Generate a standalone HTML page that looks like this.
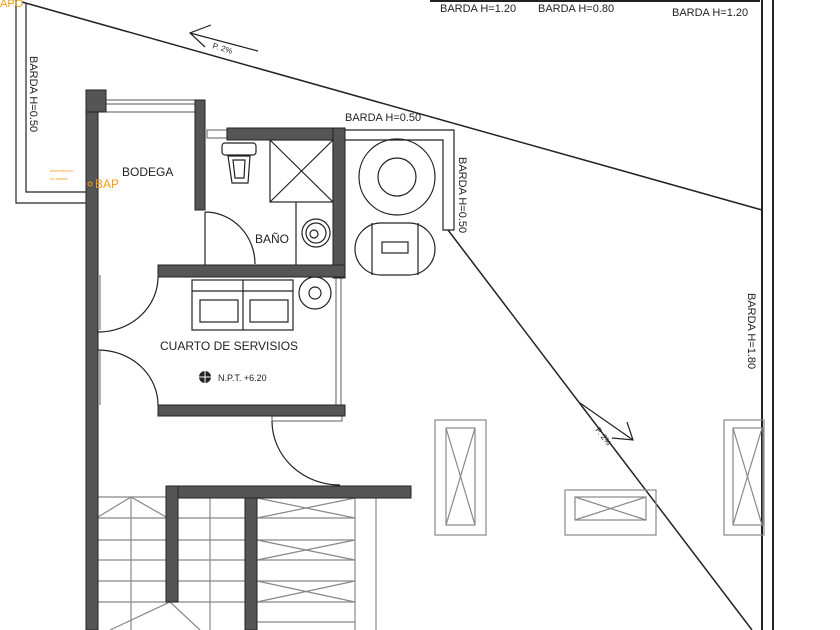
<!DOCTYPE html>
<html><head><meta charset="utf-8"><style>
html,body{margin:0;padding:0;background:#fff;}
svg{display:block;}
text{font-family:"Liberation Sans",sans-serif;fill:#222;}
</style></head><body>
<svg width="840" height="630" viewBox="0 0 840 630" xmlns="http://www.w3.org/2000/svg">
<rect width="840" height="630" fill="#fff"/>
<g fill="none" stroke="#222" stroke-width="1.2">
<polyline points="16,0 16,203 86,203"/>
<polyline points="26,4 26,192 86,192"/>
<line x1="22" y1="2" x2="762" y2="210" stroke-width="1.5"/>
<line x1="190" y1="33" x2="258" y2="51"/>
<polyline points="211,25 190,33 205,47"/>
<line x1="430" y1="1" x2="760" y2="1" stroke-width="2"/>
<line x1="762" y1="0" x2="762" y2="630" stroke-width="2"/>
<line x1="773" y1="0" x2="773" y2="630" stroke-width="2"/>
<polyline points="345,130 454,130 454,230 443,230 443,140 345,140"/>
<line x1="448" y1="230" x2="752" y2="630" stroke-width="1.5"/>
<line x1="580" y1="403" x2="633" y2="440"/>
<polyline points="627,422 633,440 612,438"/>
<circle cx="397" cy="177" r="38"/>
<circle cx="397" cy="177" r="19"/>
<rect x="355" y="223" width="80" height="52" rx="26"/>
<line x1="372" y1="223" x2="372" y2="275"/>
<line x1="418" y1="223" x2="418" y2="275"/>
<rect x="382" y="242" width="26" height="11"/>
<line x1="106" y1="100" x2="195" y2="100" stroke="#777"/>
<line x1="106" y1="104" x2="195" y2="104" stroke="#777"/>
<line x1="106" y1="112" x2="195" y2="112" stroke="#777"/>
<rect x="207" y="130" width="20" height="8" stroke="#777"/>
<rect x="222" y="143" width="34" height="12" rx="3"/>
<path d="M228,156 L250,156 L248,183 L232,183 Z"/>
<path d="M233,160 L245,160 L244,178 L235,178 Z"/>
<rect x="270" y="140" width="63" height="62"/>
<line x1="270" y1="140" x2="333" y2="202"/>
<line x1="333" y1="140" x2="270" y2="202"/>
<line x1="296" y1="202" x2="296" y2="265"/>
<circle cx="316" cy="233" r="14"/>
<circle cx="316" cy="233" r="10"/>
<circle cx="314" cy="234" r="4"/>
<line x1="205" y1="212" x2="205" y2="265"/>
<path d="M205,212 A50,52 0 0 1 255,264"/>
<rect x="192" y="280" width="101" height="50"/>
<line x1="243" y1="280" x2="243" y2="330"/>
<line x1="192" y1="291" x2="293" y2="291"/>
<rect x="200" y="300" width="38" height="22"/>
<rect x="250" y="300" width="38" height="22"/>
<circle cx="315" cy="293" r="16"/>
<circle cx="315" cy="293" r="6"/>
<line x1="336" y1="277" x2="336" y2="405" stroke="#777"/>
<line x1="341" y1="277" x2="341" y2="405" stroke="#777"/>
<path d="M158,277 A60,55 0 0 1 98,332"/>
<path d="M98,350 A60,55 0 0 1 158,405"/>
<line x1="100" y1="275" x2="100" y2="330" stroke="#777"/>
<line x1="100" y1="350" x2="100" y2="405" stroke="#777"/>
<rect x="272" y="416" width="70" height="5" stroke="#777"/>
<path d="M272,421 A68,64 0 0 0 340,485"/>
<g stroke="#888">
<rect x="435" y="420" width="51" height="115"/>
<rect x="446" y="428" width="29" height="97"/>
<line x1="446" y1="428" x2="475" y2="525"/><line x1="475" y1="428" x2="446" y2="525"/>
<rect x="565" y="490" width="91" height="45"/>
<rect x="575" y="497" width="71" height="23"/>
<line x1="575" y1="497" x2="646" y2="520"/><line x1="646" y1="497" x2="575" y2="520"/>
<rect x="724" y="420" width="40" height="115"/>
<rect x="733" y="428" width="30" height="97"/>
<line x1="733" y1="428" x2="762" y2="525"/><line x1="762" y1="428" x2="733" y2="525"/>
</g>
<g stroke="#888">
<line x1="98" y1="497" x2="166" y2="497"/>
<line x1="98" y1="518" x2="245" y2="518"/>
<line x1="98" y1="540" x2="245" y2="540"/>
<line x1="98" y1="560" x2="245" y2="560"/>
<line x1="98" y1="581" x2="245" y2="581"/>
<line x1="98" y1="602" x2="245" y2="602"/>
<line x1="131" y1="497" x2="131" y2="630"/>
<line x1="210" y1="498" x2="210" y2="630"/>
<polyline points="98,517 131,497 166,517"/>
<polyline points="110,630 170,602 200,630"/>
<line x1="355" y1="498" x2="355" y2="630"/>
<line x1="376" y1="498" x2="376" y2="630"/>
<line x1="257" y1="518" x2="355" y2="518"/>
<line x1="257" y1="540" x2="355" y2="540"/>
<line x1="257" y1="560" x2="355" y2="560"/>
<line x1="257" y1="581" x2="355" y2="581"/>
<line x1="257" y1="602" x2="355" y2="602"/>
<line x1="257" y1="622" x2="355" y2="622"/>
<line x1="257" y1="498" x2="355" y2="518"/><line x1="355" y1="498" x2="257" y2="518"/>
<line x1="257" y1="540" x2="355" y2="560"/><line x1="355" y1="540" x2="257" y2="560"/>
<line x1="257" y1="581" x2="355" y2="602"/><line x1="355" y1="581" x2="257" y2="602"/>
</g>
</g>
<g fill="#555" stroke="#222" stroke-width="1">
<rect x="86" y="90" width="12" height="540"/>
<rect x="86" y="90" width="20" height="22"/>
<rect x="195" y="100" width="10" height="110"/>
<rect x="227" y="128" width="118" height="12"/>
<rect x="333" y="128" width="12" height="150"/>
<rect x="158" y="265" width="187" height="12"/>
<rect x="158" y="405" width="187" height="11"/>
<rect x="166" y="486" width="245" height="12"/>
<rect x="166" y="486" width="12" height="116"/>
<rect x="245" y="498" width="12" height="132"/>
</g>
<circle cx="205" cy="377" r="6" fill="#222"/>
<line x1="197" y1="377" x2="213" y2="377" stroke="#fff" stroke-width="1"/>
<line x1="205" y1="369" x2="205" y2="385" stroke="#fff" stroke-width="1"/>
<text x="122" y="176" font-size="12">BODEGA</text>
<text x="255" y="243" font-size="12">BAÑO</text>
<text x="160" y="350" font-size="12">CUARTO DE SERVISIOS</text>
<text x="218" y="381" font-size="9">N.P.T. +6.20</text>
<text x="345" y="121" font-size="11">BARDA H=0.50</text>
<text x="440" y="12" font-size="11">BARDA H=1.20</text>
<text x="538" y="12" font-size="11">BARDA H=0.80</text>
<text x="672" y="16" font-size="11">BARDA H=1.20</text>
<text transform="translate(30,56) rotate(90)" font-size="11">BARDA H=0.50</text>
<text transform="translate(459,157) rotate(90)" font-size="11">BARDA H=0.50</text>
<text transform="translate(748,293) rotate(90)" font-size="11">BARDA H=1.80</text>
<text transform="translate(212,48) rotate(17)" font-size="8">P. 2%</text>
<text transform="translate(595,430) rotate(52)" font-size="8">P. 2%</text>
<text x="95" y="188" font-size="12" style="fill:#f39c12">BAP</text>
<text x="0" y="7" font-size="11" style="fill:#f39c12">APO</text>
<text x="50" y="172" font-size="4" style="fill:#f39c12">desembocan</text>
<text x="50" y="180" font-size="4" style="fill:#f39c12">en azotea</text>
<circle cx="90" cy="184" r="2" fill="none" stroke="#f39c12"/>
</svg>
</body></html>
